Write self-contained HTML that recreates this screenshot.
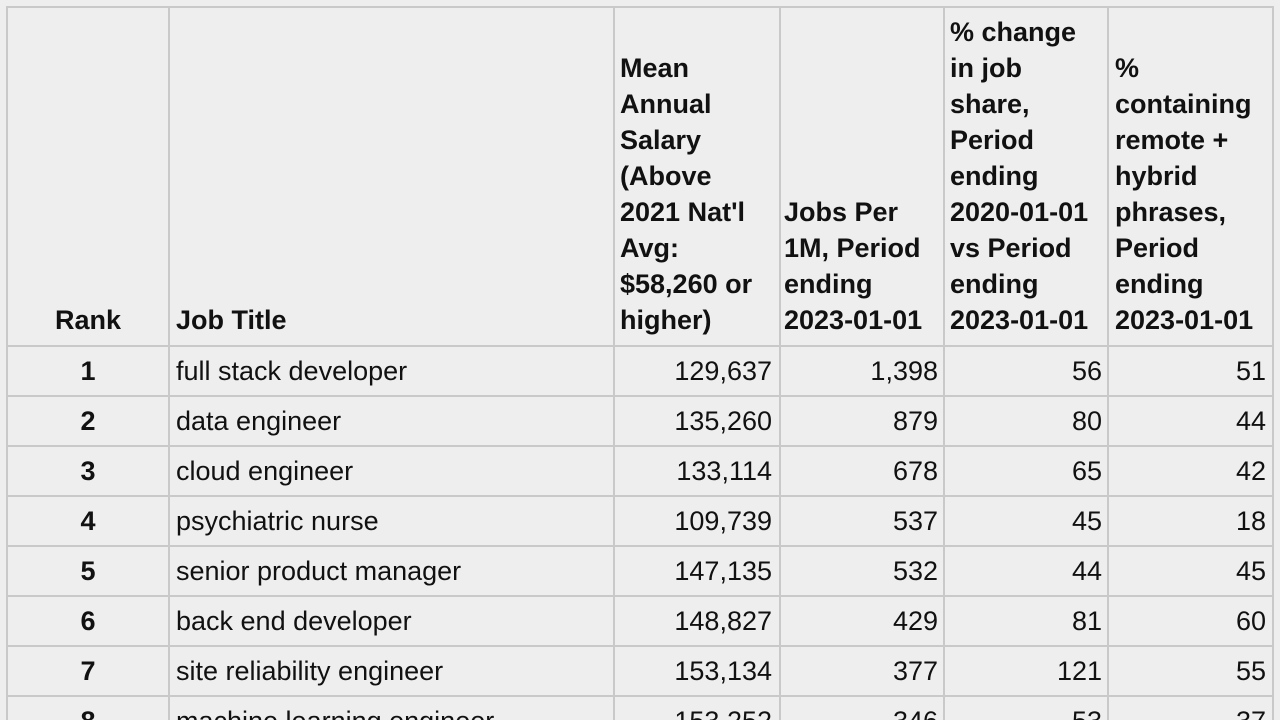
<!DOCTYPE html>
<html style="overflow:hidden;width:1280px;height:720px"><head><meta charset="utf-8"><style>
body{margin:0;width:1280px;height:720px;overflow:hidden;background:#eeeeee;font-family:"Liberation Sans",Arial,sans-serif;color:#111;position:relative}
.v{position:absolute;top:6px;height:714px;width:2px;background:#c9c9c9}
.h{position:absolute;left:6px;width:1268px;height:2px;background:#c9c9c9}
.hd{position:absolute;bottom:382px;font-weight:bold;font-size:27px;line-height:36px;white-space:nowrap}
.c{position:absolute;font-size:27px;line-height:50px;height:50px;white-space:nowrap}
.r{text-align:right}
</style></head><body>
<div class="h" style="top:6px"></div>
<div class="v" style="left:6px"></div>
<div class="v" style="left:168px"></div>
<div class="v" style="left:613px"></div>
<div class="v" style="left:779px"></div>
<div class="v" style="left:943px"></div>
<div class="v" style="left:1107px"></div>
<div class="v" style="left:1272px"></div>
<div class="h" style="top:345px"></div>
<div class="h" style="top:395px"></div>
<div class="h" style="top:445px"></div>
<div class="h" style="top:495px"></div>
<div class="h" style="top:545px"></div>
<div class="h" style="top:595px"></div>
<div class="h" style="top:645px"></div>
<div class="h" style="top:695px"></div>

<div class="hd" style="left:8px;width:160px;text-align:center">Rank</div>
<div class="hd" style="left:176px">Job Title</div>
<div class="hd" style="left:620px">Mean<br>Annual<br>Salary<br>(Above<br>2021 Nat'l<br>Avg:<br>$58,260 or<br>higher)</div>
<div class="hd" style="left:784px">Jobs Per<br>1M, Period<br>ending<br>2023-01-01</div>
<div class="hd" style="left:950px">% change<br>in job<br>share,<br>Period<br>ending<br>2020-01-01<br>vs Period<br>ending<br>2023-01-01</div>
<div class="hd" style="left:1115px">%<br>containing<br>remote +<br>hybrid<br>phrases,<br>Period<br>ending<br>2023-01-01</div>

<div id="rows"></div>
<script>
var d=[["1","full stack developer","129,637","1,398","56","51"],["2","data engineer","135,260","879","80","44"],["3","cloud engineer","133,114","678","65","42"],["4","psychiatric nurse","109,739","537","45","18"],["5","senior product manager","147,135","532","44","45"],["6","back end developer","148,827","429","81","60"],["7","site reliability engineer","153,134","377","121","55"],["8","machine learning engineer","153,252","346","53","37"]];
var h="";d.forEach(function(r,i){var t=346+i*50;var hh=(i==7)?'height:24px;overflow:hidden;':'';
h+='<div class="c" style="'+hh+'top:'+t+'px;left:8px;width:160px;text-align:center;font-weight:bold">'+r[0]+'</div>';
h+='<div class="c" style="'+hh+'top:'+t+'px;left:176px">'+r[1]+'</div>';
h+='<div class="c r" style="'+hh+'top:'+t+'px;left:615px;width:157px">'+r[2]+'</div>';
h+='<div class="c r" style="'+hh+'top:'+t+'px;left:781px;width:157px">'+r[3]+'</div>';
h+='<div class="c r" style="'+hh+'top:'+t+'px;left:945px;width:157px">'+r[4]+'</div>';
h+='<div class="c r" style="'+hh+'top:'+t+'px;left:1109px;width:157px">'+r[5]+'</div>';});
document.getElementById("rows").innerHTML=h;
</script>
</body></html>
